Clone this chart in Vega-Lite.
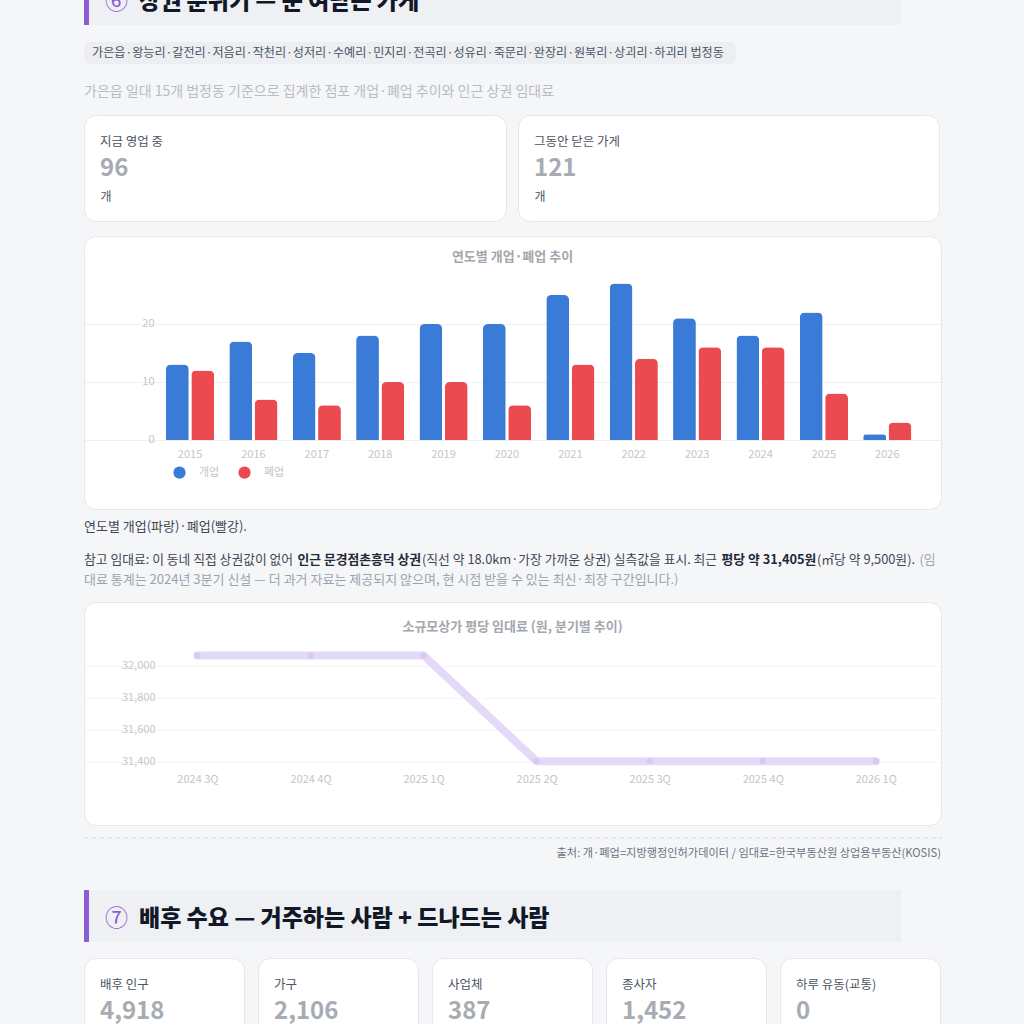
{
  "$schema": "https://vega.github.io/schema/vega-lite/v6.json",
  "background": "#f5f6f8",
  "padding": {"left": 83, "right": 84, "top": -27, "bottom": 0},
  "spacing": 0,
  "bounds": "full",
  "config": {
    "font": "Noto Sans CJK KR",
    "view": {"stroke": null},
    "title": {"frame": "group", "anchor": "start", "fontWeight": "normal", "color": "#3f4654"},
    "axis": {"labelFont": "Noto Sans CJK KR", "titleFont": "Noto Sans CJK KR"},
    "legend": {"labelFont": "Noto Sans CJK KR"}
  },
  "vconcat": [
    {
      "hconcat": [
        {"width": 5, "height": 52, "view": {"fill": "#8a5cd8"}, "data": {"values": []}, "mark": "point", "encoding": {}},
        {"width": 44, "height": 52, "view": {"fill": "#eef0f3"}, "data": {"values": []}, "mark": "point", "encoding": {},
         "title": {"text": "⑥", "fontSize": 23, "color": "#8a5cd8", "offset": -40.7, "dx": 16}},
        {"width": 768, "height": 52, "view": {"fill": "#eef0f3"}, "data": {"values": []}, "mark": "point", "encoding": {},
         "title": {"text": "상권 분위기 — 문 여닫는 가게", "fontSize": 23, "fontWeight": 900, "color": "#111827", "offset": -40.7, "dx": 6}}
      ],
      "spacing": 0, "bounds": "full"
    },
    {"width": 857, "height": 17, "data": {"values": []}, "mark": "point", "encoding": {}},
    {"width": 652, "height": 22, "view": {"fill": "#eceef2", "cornerRadius": 6}, "data": {"values": []}, "mark": "point", "encoding": {},
     "title": {"text": "가은읍·왕능리·갈전리·저음리·작천리·성저리·수예리·민지리·전곡리·성유리·죽문리·완장리·원북리·상괴리·하괴리 법정동", "fontSize": 12.1, "color": "#4b5563", "offset": -17.1, "dx": 8}},
    {"width": 857, "height": 50, "data": {"values": []}, "mark": "point", "encoding": {},
     "title": {"text": "가은읍 일대 15개 법정동 기준으로 집계한 점포 개업·폐업 추이와 인근 상권 임대료", "fontSize": 14, "color": "#b8bcc3", "offset": -35}},
    {
      "hconcat": [
        {"width": 422, "height": 106, "view": {"fill": "white", "stroke": "#e5e7eb", "cornerRadius": 12},
         "title": {"text": "지금 영업 중", "subtitle": "96", "fontSize": 12.5, "color": "#4b5563", "subtitleFontSize": 24, "subtitleFontWeight": "bold", "subtitleColor": "#a7abb2", "subtitlePadding": 8.75, "offset": -66, "dx": 16},
         "data": {"values": [{"u": 0.5}]},
         "mark": {"type": "point", "opacity": 0},
         "encoding": {"x": {"field": "u", "type": "quantitative", "scale": {"domain": [0, 1]}, "axis": {"title": "개", "labels": false, "ticks": false, "domain": false, "grid": false, "titleAnchor": "start", "titleAlign": "left", "titleX": 16, "titleY": -30, "titleBaseline": "top", "titleFontSize": 12, "titleFontWeight": "normal", "titleColor": "#4b5563"}}}},
        {"width": 421, "height": 106, "view": {"fill": "white", "stroke": "#e5e7eb", "cornerRadius": 12},
         "title": {"text": "그동안 닫은 가게", "subtitle": "121", "fontSize": 12.5, "color": "#4b5563", "subtitleFontSize": 24, "subtitleFontWeight": "bold", "subtitleColor": "#a7abb2", "subtitlePadding": 8.75, "offset": -66, "dx": 16},
         "data": {"values": [{"u": 0.5}]},
         "mark": {"type": "point", "opacity": 0},
         "encoding": {"x": {"field": "u", "type": "quantitative", "scale": {"domain": [0, 1]}, "axis": {"title": "개", "labels": false, "ticks": false, "domain": false, "grid": false, "titleAnchor": "start", "titleAlign": "left", "titleX": 16, "titleY": -30, "titleBaseline": "top", "titleFontSize": 12, "titleFontWeight": "normal", "titleColor": "#4b5563"}}}}
      ],
      "spacing": 10, "bounds": "full"
    },
    {"width": 857, "height": 13, "data": {"values": []}, "mark": "point", "encoding": {}},
    {
      "width": 857, "height": 273,
      "view": {"fill": "white", "stroke": "#e5e7eb", "cornerRadius": 12},
      "title": {"text": "연도별 개업·폐업 추이", "anchor": "middle", "fontSize": 13, "fontWeight": "bold", "color": "#a3a7ae", "offset": -27.5},
      "data": {"values": [
        {"year": "2015", "type": "개업", "n": 13}, {"year": "2015", "type": "폐업", "n": 12},
        {"year": "2016", "type": "개업", "n": 17}, {"year": "2016", "type": "폐업", "n": 7},
        {"year": "2017", "type": "개업", "n": 15}, {"year": "2017", "type": "폐업", "n": 6},
        {"year": "2018", "type": "개업", "n": 18}, {"year": "2018", "type": "폐업", "n": 10},
        {"year": "2019", "type": "개업", "n": 20}, {"year": "2019", "type": "폐업", "n": 10},
        {"year": "2020", "type": "개업", "n": 20}, {"year": "2020", "type": "폐업", "n": 6},
        {"year": "2021", "type": "개업", "n": 25}, {"year": "2021", "type": "폐업", "n": 13},
        {"year": "2022", "type": "개업", "n": 27}, {"year": "2022", "type": "폐업", "n": 14},
        {"year": "2023", "type": "개업", "n": 21}, {"year": "2023", "type": "폐업", "n": 16},
        {"year": "2024", "type": "개업", "n": 18}, {"year": "2024", "type": "폐업", "n": 16},
        {"year": "2025", "type": "개업", "n": 22}, {"year": "2025", "type": "폐업", "n": 8},
        {"year": "2026", "type": "개업", "n": 1}, {"year": "2026", "type": "폐업", "n": 3}
      ]},
      "mark": {"type": "bar", "cornerRadiusTopLeft": 5, "cornerRadiusTopRight": 5},
      "encoding": {
        "x": {"field": "year", "type": "nominal", "sort": null,
              "scale": {"paddingInner": 0.2, "paddingOuter": 0.86, "align": 0.74},
              "axis": {"title": null, "orient": "bottom", "offset": -69, "labelAngle": 0, "labelPadding": 8, "labelFontSize": 11, "labelColor": "#c3c6cb", "ticks": false, "domain": false, "grid": false}},
        "xOffset": {"field": "type", "type": "nominal", "sort": ["개업", "폐업"], "scale": {"paddingInner": 0.1, "paddingOuter": 0.05}},
        "y": {"field": "n", "type": "quantitative",
              "scale": {"domain": [-11.9, 35.17], "nice": false, "zero": false},
              "axis": {"title": null, "values": [0, 10, 20], "offset": -78, "labelPadding": 8, "labelFontSize": 11, "labelColor": "#c3c6cb", "ticks": false, "domain": false, "gridColor": "#eef0f2"}},
        "color": {"field": "type", "type": "nominal",
                  "scale": {"domain": ["개업", "폐업"], "range": ["#3b7bd8", "#ea4a50"]},
                  "legend": {"orient": "none", "legendX": 89, "legendY": 493, "direction": "horizontal", "title": null, "symbolType": "circle", "symbolSize": 150, "symbolStrokeWidth": 0, "labelFontSize": 11, "labelColor": "#c3c6cb", "labelOffset": 13, "columnPadding": 18, "padding": 0}}
      }
    },
    {"width": 857, "height": 33, "data": {"values": []}, "mark": "point", "encoding": {},
     "title": {"text": "연도별 개업(파랑)·폐업(빨강).", "fontSize": 13, "color": "#3f4654", "offset": -23.5}},
    {
      "hconcat": [
        {"width": 1, "height": 27, "data": {"values": []}, "mark": "point", "encoding": {},
         "title": {"text": "참고 임대료: 이 동네 직접 상권값이 없어", "fontSize": 12.8, "color": "#3f4654", "offset": -23.5}},
        {"width": 1, "height": 27, "data": {"values": []}, "mark": "point", "encoding": {},
         "title": {"text": "인근 문경점촌흥덕 상권", "fontSize": 12.8, "fontWeight": "bold", "color": "#1f2937", "offset": -23.5, "dx": 3.5}},
        {"width": 1, "height": 27, "data": {"values": []}, "mark": "point", "encoding": {},
         "title": {"text": "(직선 약 18.0km·가장 가까운 상권) 실측값을 표시. 최근", "fontSize": 12.8, "color": "#3f4654", "offset": -23.5}},
        {"width": 1, "height": 27, "data": {"values": []}, "mark": "point", "encoding": {},
         "title": {"text": "평당 약 31,405원", "fontSize": 12.8, "fontWeight": "bold", "color": "#1f2937", "offset": -23.5, "dx": 3.5}},
        {"width": 1, "height": 27, "data": {"values": []}, "mark": "point", "encoding": {},
         "title": {"text": "(㎡당 약 9,500원).", "fontSize": 12.8, "color": "#3f4654", "offset": -23.5}},
        {"width": 1, "height": 27, "data": {"values": []}, "mark": "point", "encoding": {},
         "title": {"text": "(임", "fontSize": 12.8, "color": "#9ca3af", "offset": -23.5, "dx": 3.5}}
      ],
      "spacing": 0, "bounds": "full"
    },
    {"width": 857, "height": 31, "data": {"values": []}, "mark": "point", "encoding": {},
     "title": {"text": "대료 통계는 2024년 3분기 신설 — 더 과거 자료는 제공되지 않으며, 현 시점 받을 수 있는 최신·최장 구간입니다.)", "fontSize": 13, "color": "#9ca3af", "offset": -16.5}},
    {
      "width": 857, "height": 223,
      "view": {"fill": "white", "stroke": "#e5e7eb", "cornerRadius": 12},
      "title": {"text": "소규모상가 평당 임대료 (원, 분기별 추이)", "anchor": "middle", "fontSize": 13, "fontWeight": "bold", "color": "#a3a7ae", "offset": -31.5},
      "data": {"values": [
        {"q": "2024 3Q", "rent": 32066},
        {"q": "2024 4Q", "rent": 32066},
        {"q": "2025 1Q", "rent": 32066},
        {"q": "2025 2Q", "rent": 31405},
        {"q": "2025 3Q", "rent": 31405},
        {"q": "2025 4Q", "rent": 31405},
        {"q": "2026 1Q", "rent": 31405}
      ]},
      "encoding": {
        "x": {"field": "q", "type": "ordinal", "sort": null,
              "scale": {"type": "point", "padding": 0.79, "align": 0.635},
              "axis": {"title": null, "offset": -56, "labelAngle": 0, "labelPadding": 4, "labelFontSize": 11, "labelColor": "#c3c6cb", "ticks": false, "domain": false, "gridColor": "#f3f4f6"}},
        "y": {"field": "rent", "type": "quantitative",
              "scale": {"domain": [31006, 32400], "nice": false, "zero": false},
              "axis": {"title": null, "values": [31400, 31600, 31800, 32000], "format": ",d", "offset": -78, "labelPadding": 7, "labelFontSize": 11, "labelColor": "#c3c6cb", "ticks": false, "domain": false, "gridColor": "#f3f4f6"}}
      },
      "layer": [
        {"mark": {"type": "line", "strokeWidth": 8, "color": "#e4d9f7", "strokeCap": "round", "strokeJoin": "round"}},
        {"mark": {"type": "point", "filled": true, "size": 40, "color": "#d8c9f4", "opacity": 1}}
      ]
    },
    {"width": 857, "height": 10, "data": {"values": []}, "mark": "point", "encoding": {}},
    {"width": 857, "height": 1, "view": {"stroke": "#e2e4e8", "strokeDash": [4, 4]}, "data": {"values": []}, "mark": "point", "encoding": {}},
    {"width": 857, "height": 51, "data": {"values": []}, "mark": "point", "encoding": {},
     "title": {"text": "출처: 개·폐업=지방행정인허가데이터 / 임대료=한국부동산원 상업용부동산(KOSIS)", "anchor": "end", "fontSize": 11.2, "color": "#6b7280", "offset": -20.6}},
    {
      "hconcat": [
        {"width": 5, "height": 52, "view": {"fill": "#8a5cd8"}, "data": {"values": []}, "mark": "point", "encoding": {}},
        {"width": 44, "height": 52, "view": {"fill": "#eef0f3"}, "data": {"values": []}, "mark": "point", "encoding": {},
         "title": {"text": "⑦", "fontSize": 23, "color": "#8a5cd8", "offset": -40.7, "dx": 16}},
        {"width": 768, "height": 52, "view": {"fill": "#eef0f3"}, "data": {"values": []}, "mark": "point", "encoding": {},
         "title": {"text": "배후 수요 — 거주하는 사람 + 드나드는 사람", "fontSize": 23, "fontWeight": 900, "color": "#111827", "offset": -40.7, "dx": 6}}
      ],
      "spacing": 0, "bounds": "full"
    },
    {"width": 857, "height": 15, "data": {"values": []}, "mark": "point", "encoding": {}},
    {
      "hconcat": [
        {"width": 160, "height": 106, "view": {"fill": "white", "stroke": "#e5e7eb", "cornerRadius": 12}, "data": {"values": []}, "mark": "point", "encoding": {},
         "title": {"text": "배후 인구", "subtitle": "4,918", "fontSize": 12.5, "color": "#4b5563", "subtitleFontSize": 24, "subtitleFontWeight": "bold", "subtitleColor": "#a7abb2", "subtitlePadding": 8.75, "offset": -66, "dx": 16}},
        {"width": 160, "height": 106, "view": {"fill": "white", "stroke": "#e5e7eb", "cornerRadius": 12}, "data": {"values": []}, "mark": "point", "encoding": {},
         "title": {"text": "가구", "subtitle": "2,106", "fontSize": 12.5, "color": "#4b5563", "subtitleFontSize": 24, "subtitleFontWeight": "bold", "subtitleColor": "#a7abb2", "subtitlePadding": 8.75, "offset": -66, "dx": 16}},
        {"width": 160, "height": 106, "view": {"fill": "white", "stroke": "#e5e7eb", "cornerRadius": 12}, "data": {"values": []}, "mark": "point", "encoding": {},
         "title": {"text": "사업체", "subtitle": "387", "fontSize": 12.5, "color": "#4b5563", "subtitleFontSize": 24, "subtitleFontWeight": "bold", "subtitleColor": "#a7abb2", "subtitlePadding": 8.75, "offset": -66, "dx": 16}},
        {"width": 160, "height": 106, "view": {"fill": "white", "stroke": "#e5e7eb", "cornerRadius": 12}, "data": {"values": []}, "mark": "point", "encoding": {},
         "title": {"text": "종사자", "subtitle": "1,452", "fontSize": 12.5, "color": "#4b5563", "subtitleFontSize": 24, "subtitleFontWeight": "bold", "subtitleColor": "#a7abb2", "subtitlePadding": 8.75, "offset": -66, "dx": 16}},
        {"width": 160, "height": 106, "view": {"fill": "white", "stroke": "#e5e7eb", "cornerRadius": 12}, "data": {"values": []}, "mark": "point", "encoding": {},
         "title": {"text": "하루 유동(교통)", "subtitle": "0", "fontSize": 12.5, "color": "#4b5563", "subtitleFontSize": 24, "subtitleFontWeight": "bold", "subtitleColor": "#a7abb2", "subtitlePadding": 8.75, "offset": -66, "dx": 16}}
      ],
      "spacing": 12, "bounds": "full"
    }
  ]
}
